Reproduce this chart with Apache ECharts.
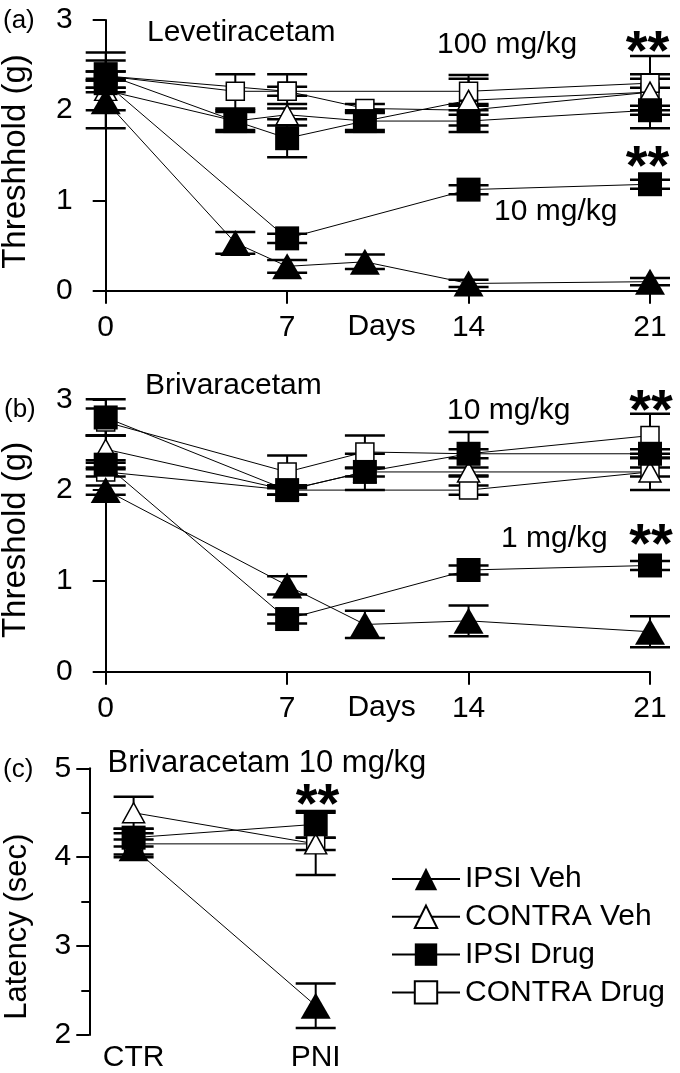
<!DOCTYPE html>
<html>
<head>
<meta charset="utf-8">
<title>Threshold / Latency</title>
<script src="https://cdn.jsdelivr.net/npm/echarts@6.0.0/dist/echarts.min.js"></script>
<style>
    body { margin: 0; padding: 0; background: #fff; }
    #chart { width: 680px; height: 1073px; }
</style>
</head>
<body>
<div id="chart"></div>
<script>
    // ---- data ----
    var daysA = [0, 5, 7, 10, 14, 21];
    var daysA10 = [0, 7, 14, 21];
    var a_ipsiVeh = [2.1, 0.53, 0.27, 0.32, 0.08, 0.1];
    var a_ipsiVehErr = [0.1, 0.12, 0.07, 0.08, 0.04, 0.04];
    var a_contraVeh = [2.22, 1.88, 1.95, 1.88, 2.11, 2.2];
    var a_contraVehErr = [0.42, 0.1, 0.12, 0.1, 0.28, 0.4];
    var a_ipsiDrug100 = [2.4, 1.88, 1.69, 1.88, 1.88, 2.0];
    var a_ipsiDrug100Err = [0.15, 0.12, 0.21, 0.12, 0.12, 0.05];
    var a_contraDrug100 = [2.38, 2.21, 2.21, 2.02, 2.0, 2.2];
    var a_contraDrug100Err = [0.05, 0.19, 0.19, 0.05, 0.05, 0.2];
    var a_ipsiDrug10 = [2.3, 0.58, 1.12, 1.18];
    var a_ipsiDrug10Err = [0.05, 0.05, 0.05, 0.05];
    var a_contraDrug10 = [2.38, 2.21, 2.21, 2.3];
    var a_contraDrug10Err = [0.05, 0.05, 0.14, 0.05];

    var daysB = [0, 7, 10, 14, 21];
    var daysB1 = [0, 7, 14, 21];
    var b_ipsiVeh = [2.0, 0.95, 0.52, 0.56, 0.44];
    var b_ipsiVehErr = [0.05, 0.1, 0.15, 0.17, 0.17];
    var b_contraVeh = [2.45, 2.0, 2.2, 2.2, 2.2];
    var b_contraVehErr = [0.15, 0.05, 0.05, 0.05, 0.2];
    var b_ipsiDrug10 = [2.8, 2.0, 2.2, 2.4, 2.4];
    var b_ipsiDrug10Err = [0.2, 0.05, 0.2, 0.24, 0.05];
    var b_contraDrug10 = [2.75, 2.2, 2.42, 2.4, 2.6];
    var b_contraDrug10Err = [0.15, 0.18, 0.18, 0.05, 0.24];
    var b_ipsiDrug1 = [2.28, 0.58, 1.12, 1.17];
    var b_ipsiDrug1Err = [0.05, 0.05, 0.05, 0.05];
    var b_contraDrug1 = [2.2, 2.0, 2.0, 2.2];
    var b_contraDrug1Err = [0.05, 0.05, 0.05, 0.05];

    var groupsC = ['CTR', 'PNI'];
    var c_ipsiVeh = [4.1, 2.33];
    var c_ipsiVehErr = [0.1, 0.25];
    var c_contraVeh = [4.5, 4.15];
    var c_contraVehErr = [0.18, 0.35];
    var c_ipsiDrug = [4.22, 4.37];
    var c_ipsiDrugErr = [0.1, 0.15];
    var c_contraDrug = [4.15, 4.15];
    var c_contraDrugErr = [0.12, 0.07];

    var groupNames = ['IPSI Veh', 'CONTRA Veh', 'IPSI Drug', 'CONTRA Drug'];
    var dayTicks = [0, 7, 14, 21];

    var FONT = '"Liberation Sans", Arial, Helvetica, sans-serif';

    // marker look per group
    var looks = {
        'IPSI Veh': { symbol: 'triangle', size: [30, 26], fill: '#000' },
        'CONTRA Veh': { symbol: 'triangle', size: [22, 20], fill: '#fff' },
        'IPSI Drug': { symbol: 'rect', size: [24, 24], fill: '#000' },
        'CONTRA Drug': { symbol: 'rect', size: [18, 18], fill: '#fff' }
    };

    function zip(xs, ys) {
        return xs.map(function (x, i) { return [x, ys[i]]; });
    }
    function zip3(xs, ys, es) {
        return xs.map(function (x, i) { return [x, ys[i], es[i]]; });
    }

    var series = [];

    function addGroup(name, grid, xs, ys, es) {
        var lk = looks[name];
        // error bars (SEM), drawn under the markers
        series.push({
            type: 'custom',
            name: name + ' SEM',
            xAxisIndex: grid,
            yAxisIndex: grid,
            z: 1,
            silent: true,
            clip: false,
            data: zip3(xs, ys, es),
            renderItem: function (params, api) {
                var x = api.value(0), y = api.value(1), e = api.value(2);
                var top = api.coord([x, y + e]);
                var bot = api.coord([x, y - e]);
                var st = { stroke: '#000', lineWidth: 2.5 };
                return {
                    type: 'group',
                    children: [
                        { type: 'line', shape: { x1: top[0], y1: top[1], x2: bot[0], y2: bot[1] }, style: { stroke: '#000', lineWidth: 2 } },
                        { type: 'line', shape: { x1: top[0] - 20, y1: top[1], x2: top[0] + 20, y2: top[1] }, style: st },
                        { type: 'line', shape: { x1: bot[0] - 20, y1: bot[1], x2: bot[0] + 20, y2: bot[1] }, style: st }
                    ]
                };
            }
        });
        series.push({
            type: 'line',
            name: name,
            xAxisIndex: grid,
            yAxisIndex: grid,
            z: 3,
            clip: false,
            data: zip(xs, ys),
            symbol: lk.symbol,
            symbolSize: lk.size,
            showAllSymbol: true,
            itemStyle: { color: lk.fill, borderColor: '#000', borderWidth: lk.fill === '#fff' ? 1.5 : 0, opacity: 1 },
            lineStyle: { color: '#000', width: 1 },
            emphasis: { disabled: true },
            animation: false
        });
    }

    // panel (a)
    addGroup('CONTRA Drug', 0, daysA, a_contraDrug100, a_contraDrug100Err);
    addGroup('CONTRA Drug', 0, daysA10, a_contraDrug10, a_contraDrug10Err);
    addGroup('CONTRA Veh', 0, daysA, a_contraVeh, a_contraVehErr);
    addGroup('IPSI Drug', 0, daysA, a_ipsiDrug100, a_ipsiDrug100Err);
    addGroup('IPSI Drug', 0, daysA10, a_ipsiDrug10, a_ipsiDrug10Err);
    addGroup('IPSI Veh', 0, daysA, a_ipsiVeh, a_ipsiVehErr);
    // panel (b)
    addGroup('CONTRA Drug', 1, daysB, b_contraDrug10, b_contraDrug10Err);
    addGroup('CONTRA Drug', 1, daysB1, b_contraDrug1, b_contraDrug1Err);
    addGroup('CONTRA Veh', 1, daysB, b_contraVeh, b_contraVehErr);
    addGroup('IPSI Drug', 1, daysB, b_ipsiDrug10, b_ipsiDrug10Err);
    addGroup('IPSI Drug', 1, daysB1, b_ipsiDrug1, b_ipsiDrug1Err);
    addGroup('IPSI Veh', 1, daysB, b_ipsiVeh, b_ipsiVehErr);
    // panel (c)
    var idxC = groupsC.map(function (g, i) { return i; });
    addGroup('CONTRA Drug', 2, idxC, c_contraDrug, c_contraDrugErr);
    addGroup('CONTRA Veh', 2, idxC, c_contraVeh, c_contraVehErr);
    addGroup('IPSI Drug', 2, idxC, c_ipsiDrug, c_ipsiDrugErr);
    addGroup('IPSI Veh', 2, idxC, c_ipsiVeh, c_ipsiVehErr);

    var axisLine = { show: true, lineStyle: { color: '#000', width: 2 } };
    var axisTick = { show: true, length: 13, lineStyle: { color: '#000', width: 2 } };
    var tickLabel = { color: '#000', fontSize: 30, fontFamily: FONT };

    function dayAxis(grid) {
        return {
            type: 'value', gridIndex: grid, min: 0, max: 21, interval: 7,
            axisLine: axisLine, axisTick: axisTick, splitLine: { show: false },
            axisLabel: Object.assign({ margin: 22, formatter: function (v) { return dayTicks.indexOf(v) >= 0 ? String(v) : ''; } }, tickLabel)
        };
    }
    function thrAxis(grid) {
        return {
            type: 'value', gridIndex: grid, min: 0, max: 3, interval: 1, offset: 13,
            axisLine: axisLine, axisTick: axisTick, splitLine: { show: false },
            axisLabel: Object.assign({ margin: 20 }, tickLabel)
        };
    }

    function txt(text, x, y, size, extra) {
        return Object.assign({
            type: 'text', x: x, y: y, silent: true,
            style: {
                text: text, fill: '#000', fontSize: size, fontFamily: FONT,
                align: 'left', verticalAlign: 'middle'
            }
        }, extra || {});
    }
    function stars(x, y) {
        var t = txt('**', x, y, 56);
        t.style.fontWeight = 'bold';
        t.style.align = 'center';
        return t;
    }
    function vtitle(text, x, y, size) {
        var t = txt(text, x, y, size, { rotation: Math.PI / 2 });
        t.style.align = 'center';
        return t;
    }
    function ctext(text, x, y, size) {
        var t = txt(text, x, y, size);
        t.style.align = 'center';
        return t;
    }

    var chart = echarts.init(document.getElementById('chart'), null, { renderer: 'canvas' });
    chart.setOption({
        animation: false,
        backgroundColor: '#fff',
        grid: [
            { left: 105.7, width: 544.3, top: 20, height: 270.7 },
            { left: 105.7, width: 544.3, top: 399.3, height: 272.4 },
            { left: 133.6, width: 182.1, top: 768.3, height: 270 }
        ],
        xAxis: [
            dayAxis(0),
            dayAxis(1),
            {
                type: 'category', gridIndex: 2, data: groupsC, boundaryGap: false,
                axisLine: { show: false }, axisTick: { show: false },
                axisLabel: Object.assign({ margin: 8 }, tickLabel)
            }
        ],
        yAxis: [
            thrAxis(0),
            thrAxis(1),
            {
                type: 'value', gridIndex: 2, min: 2, max: 5, interval: 1, offset: 44.3,
                axisLine: axisLine, axisTick: axisTick, splitLine: { show: false },
                minorTick: { show: true, splitNumber: 2, length: 8, lineStyle: { color: '#000', width: 2 } },
                axisLabel: Object.assign({ margin: 18 }, tickLabel)
            }
        ],
        legend: {
            data: groupNames,
            orient: 'vertical',
            left: 386,
            top: 859,
            itemWidth: 68,
            itemHeight: 28,
            itemGap: 7.8,
            selectedMode: false,
            textStyle: { color: '#000', fontSize: 30, fontFamily: FONT }
        },
        graphic: [
            txt('(a)', 3, 21, 26),
            txt('Levetiracetam', 147, 33, 30),
            txt('100 mg/kg', 437, 45, 30),
            stars(647.5, 54),
            txt('10 mg/kg', 494, 212, 30),
            stars(647.5, 168.5),
            ctext('Days', 381.6, 327, 30),
            vtitle('Threshhold (g)', 15.5, 161.5, 33),

            txt('(b)', 4, 410, 26),
            txt('Brivaracetam', 145, 386, 30),
            txt('10 mg/kg', 447, 411, 30),
            stars(651, 413),
            txt('1 mg/kg', 501, 539, 30),
            stars(651, 547),
            ctext('Days', 381.6, 708, 30),
            vtitle('Threshold (g)', 15.5, 540, 33),

            txt('(c)', 3, 769.5, 26),
            txt('Brivaracetam 10 mg/kg', 107.5, 763, 31),
            stars(317.5, 807),
            vtitle('Latency (sec)', 17, 926.7, 31)
        ],
        series: series
    });
</script>
</body>
</html>
